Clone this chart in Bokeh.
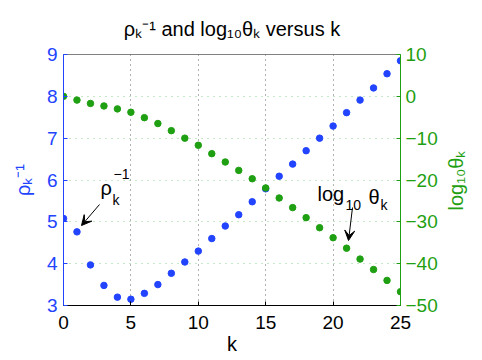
import math
from bokeh.plotting import figure
from bokeh.models import (Range1d, LinearAxis, FixedTicker, Label, Arrow, VeeHead)
from bokeh.embed import file_html
from bokeh.resources import INLINE

# ---- data ----
k = list(range(26))
rho_inv = [5.08, 4.76, 3.97, 3.48, 3.20, 3.15, 3.29, 3.50, 3.77, 4.04, 4.30,
           4.60, 4.90, 5.17, 5.48, 5.79, 6.09, 6.38, 6.70, 7.00, 7.29, 7.61,
           7.91, 8.20, 8.54, 8.85]
log_theta = [0.0, -0.9, -1.7, -2.3, -3.0, -3.8, -5.1, -6.5, -8.2, -10.0, -11.7,
             -13.7, -15.7, -17.7, -19.7, -21.9, -24.3, -26.6, -29.0, -31.4,
             -33.8, -36.3, -38.9, -41.4, -44.0, -46.7]
x_ticks = [0, 5, 10, 15, 20, 25]
left_ticks = [3, 4, 5, 6, 7, 8, 9]
right_ticks = [-50, -40, -30, -20, -10, 0, 10]
title_text = "\u03c1\u2096\u207b\u00b9 and log\u2081\u2080\u03b8\u2096 versus k"
x_label = "k"
left_label = "\u03c1\u2096\u207b\u00b9"
right_label = "log\u2081\u2080\u03b8\u2096"

BLUE = "#2244ff"
GREEN = "#1f9f12"
FONT = "Liberation Sans"

p = figure(width=482, height=360, output_backend="svg", toolbar_location=None,
           x_range=Range1d(0, 25), y_range=Range1d(3, 9),
           min_border_left=63, min_border_right=82, min_border_top=54,
           min_border_bottom=55)
p.outline_line_color = "#808080"
p.background_fill_color = "white"
p.border_fill_color = "white"

p.title.text = title_text
p.title.text_font = FONT
p.title.text_font_size = "20px"
p.title.text_font_style = "normal"
p.title.align = "center"
p.title.text_color = "black"
p.title.standoff = 29

p.extra_y_ranges = {"theta": Range1d(-50, 10)}

# grids (interior lines only)
p.xgrid.ticker = FixedTicker(ticks=x_ticks[1:-1])
p.xgrid.grid_line_color = "#666666"
p.xgrid.grid_line_dash = "1 4"
p.ygrid.ticker = FixedTicker(ticks=left_ticks[1:-1])
p.ygrid.grid_line_color = "#8fd08f"
p.ygrid.grid_line_dash = "1 5"

def style_axis(ax, color, standoff):
    ax.axis_line_color = color
    ax.major_tick_line_color = color
    ax.major_label_text_color = color
    ax.major_tick_in = 4
    ax.major_tick_out = 0
    ax.minor_tick_line_color = None
    ax.major_label_text_font = FONT
    ax.major_label_text_font_size = "19px"
    ax.major_label_standoff = standoff
    ax.axis_label_text_font = FONT
    ax.axis_label_text_font_size = "20px"
    ax.axis_label_text_font_style = "normal"
    ax.axis_label_text_color = color

# bottom axis
xa = p.xaxis[0]
xa.ticker = FixedTicker(ticks=x_ticks)
style_axis(xa, "black", 10)
xa.axis_label = x_label
xa.axis_label_standoff = 1

# left axis
ya = p.yaxis[0]
ya.ticker = FixedTicker(ticks=left_ticks)
style_axis(ya, BLUE, 6)
ya.axis_label = left_label
ya.axis_label_standoff = 10

# right axis
ra = LinearAxis(y_range_name="theta", ticker=FixedTicker(ticks=right_ticks))
style_axis(ra, GREEN, 5)
ra.major_label_overrides = {t: (str(t).replace("-", "\u2212")) for t in right_ticks}
p.add_layout(ra, "right")

# right axis label: rotated label in the right side panel (reads bottom to top)
right_lbl = Label(x=455, y=210, x_units="canvas", y_units="canvas",
                  text=right_label, text_font=FONT, text_font_size="20px",
                  text_color=GREEN, text_baseline="alphabetic", text_align="left",
                  angle=math.pi / 2)
p.add_layout(right_lbl, "right")

# data
p.scatter(k, rho_inv, size=6.5, color=BLUE)
p.scatter(k, log_theta, size=6.5, color=GREEN, y_range_name="theta")

# in-plot annotation text (page pixel coords -> frame screen coords)
FX0, FY0 = 63, 305
def lab(px, py, text, size, color="black", angle=0.0):
    p.add_layout(Label(x=px - FX0, y=FY0 - py, x_units="screen", y_units="screen",
                       text=text, text_font=FONT, text_font_size=f"{size}px",
                       text_color=color, text_baseline="alphabetic",
                       text_align="left", angle=angle))

lab(100, 187, "\u03c1", 20)
lab(112, 199, "k", 14)
lab(113, 173, "\u22121", 14)

lab(317, 193, "log", 20)
lab(345, 204, "10", 14)
lab(368, 196, "\u03b8", 20)
lab(380, 204, "k", 14)

def arrow(x0, y0, x1, y1):
    p.add_layout(Arrow(end=VeeHead(size=10, fill_color="black", line_color="black"),
                       x_start=x0 - FX0, y_start=FY0 - y0, x_end=x1 - FX0, y_end=FY0 - y1,
                       start_units="screen", end_units="screen",
                       line_color="black", line_width=1))

arrow(99, 204, 81, 225)
arrow(352, 207, 348, 240)

open("out.html", "w").write(file_html(p, INLINE))
